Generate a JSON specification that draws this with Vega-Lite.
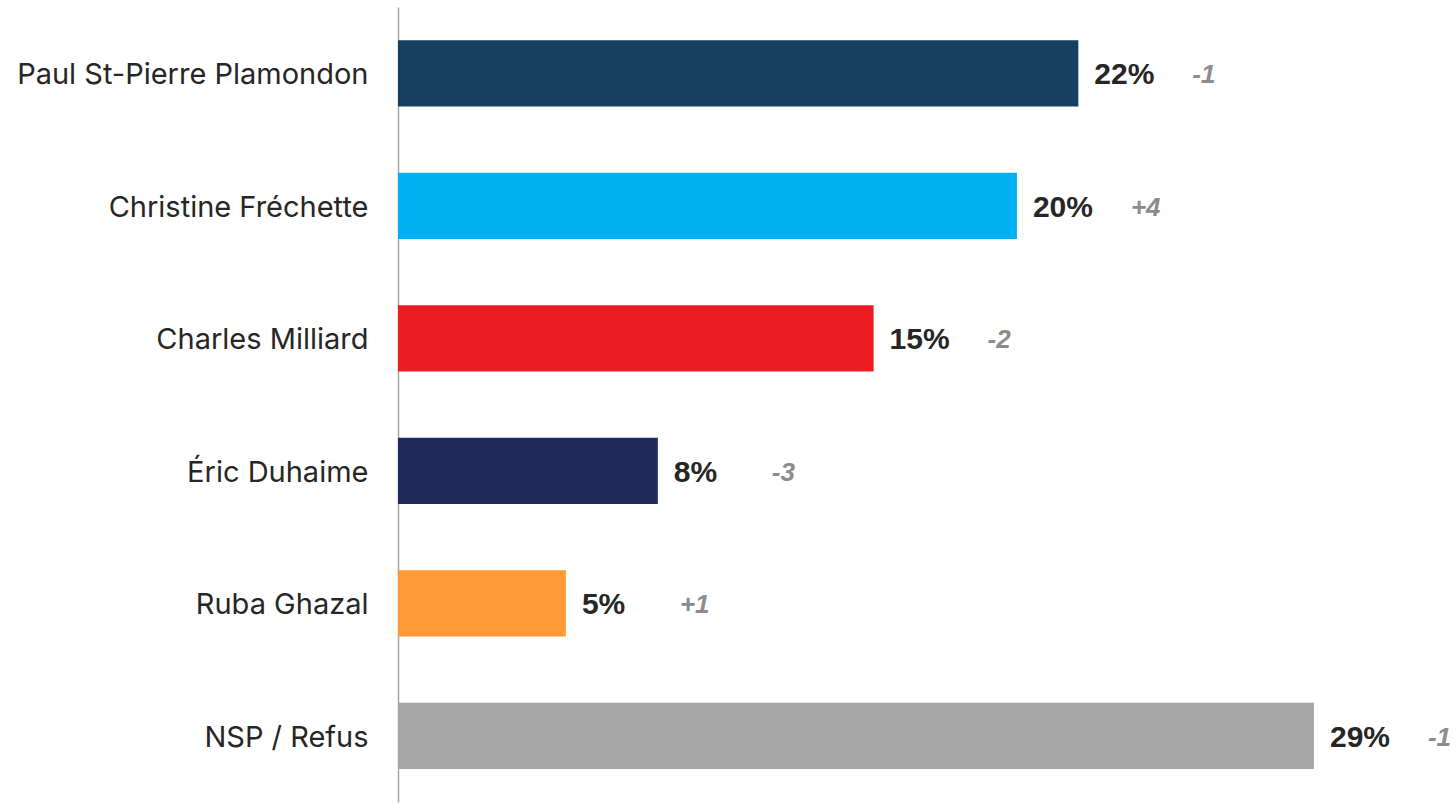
{
  "$schema": "https://vega.github.io/schema/vega-lite/v6.json",
  "width": 1058,
  "height": 795,
  "autosize": {"type": "none"},
  "padding": {"left": 398, "top": 7, "right": 0, "bottom": 1},
  "background": "white",
  "config": {"view": {"stroke": null}},
  "data": {
    "values": [
      {"name": "Paul St-Pierre Plamondon", "value": 21.6, "label": "22%", "change": "-1", "color": "#173F5F"},
      {"name": "Christine Fréchette", "value": 19.65, "label": "20%", "change": "+4", "color": "#00B0F0"},
      {"name": "Charles Milliard", "value": 15.1, "label": "15%", "change": "-2", "color": "#ED1C24"},
      {"name": "Éric Duhaime", "value": 8.25, "label": "8%", "change": "-3", "color": "#1F2A5C"},
      {"name": "Ruba Ghazal", "value": 5.33, "label": "5%", "change": "+1", "color": "#FF9A35"},
      {"name": "NSP / Refus", "value": 29.08, "label": "29%", "change": "-1", "color": "#A6A6A6"}
    ]
  },
  "encoding": {
    "y": {
      "field": "name",
      "type": "nominal",
      "sort": null,
      "scale": {"paddingInner": 0.5, "paddingOuter": 0.25},
      "axis": {
        "title": null,
        "ticks": false,
        "domainColor": "#A6A6A6",
        "domainWidth": 1.5,
        "labelPadding": 30,
        "labelFont": "Inter",
        "labelFontSize": 29,
        "labelColor": "#262626",
        "labelLimit": 500,
        "labelOffset": 2
      }
    },
    "x": {
      "field": "value",
      "type": "quantitative",
      "scale": {"domain": [0, 33.59], "nice": false},
      "axis": null
    }
  },
  "layer": [
    {
      "mark": {"type": "bar"},
      "encoding": {
        "color": {"field": "color", "type": "nominal", "scale": null, "legend": null}
      }
    },
    {
      "mark": {"type": "text", "align": "left", "baseline": "middle", "dx": 16, "dy": 2, "font": "Liberation Sans", "fontWeight": "bold", "fontSize": 30, "color": "#262626"},
      "encoding": {"text": {"field": "label"}}
    },
    {
      "mark": {"type": "text", "align": "left", "baseline": "middle", "dx": 114, "dy": 2, "font": "Liberation Sans", "fontWeight": "bold", "fontStyle": "italic", "fontSize": 26, "color": "#8C8C8C"},
      "encoding": {"text": {"field": "change"}}
    }
  ]
}
